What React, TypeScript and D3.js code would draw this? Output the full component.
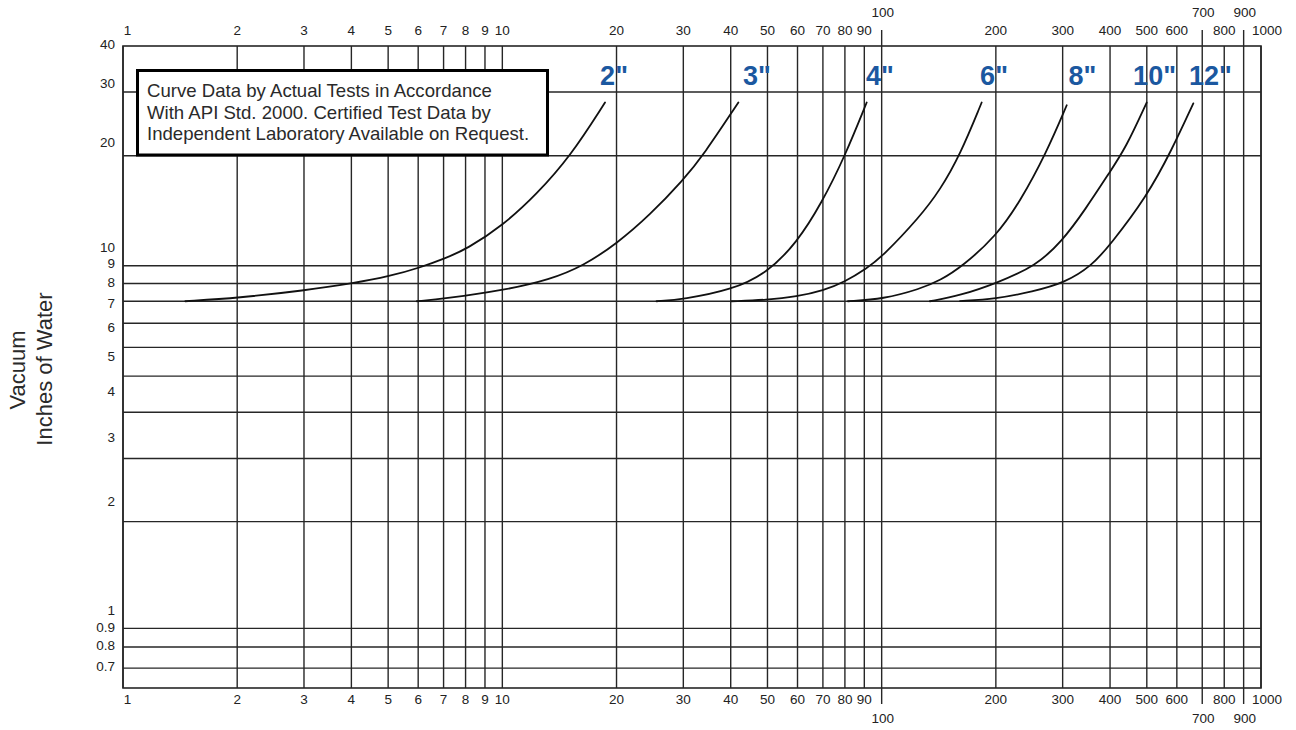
import React from "react";
import * as d3 from "d3";

// ---- data ----
const xGridValues = [1, 2, 3, 4, 5, 6, 7, 8, 9, 10, 20, 30, 40, 50, 60, 70, 80, 90, 100, 200, 300, 400, 500, 600, 700, 800, 900, 1000];
const xTickLabels = [1, 2, 3, 4, 5, 6, 7, 8, 9, 10, 20, 30, 40, 50, 60, 70, 80, 90, 200, 300, 400, 500, 600, 800, 1000];
const xTickLabelsOffset = [100, 700, 900];
const yTickLabels = [40, 30, 20, 10, 9, 8, 7, 6, 5, 4, 3, 2, 1, 0.9, 0.8, 0.7];
const yGridValues = [0.7, 0.8, 0.9, 1.77, 2.64, 3.54, 4.45, 5.34, 6.22, 7.15, 8, 8.95, 18.5, 28.6];

const curve2: [number, number][] = [
  [1.46, 7.15], [2.01, 7.3], [3.02, 7.66], [4.02, 8.0], [5.06, 8.38], [6.07, 8.85], [7.06, 9.38],
  [8.06, 9.95], [10.06, 11.67], [12.3, 14.3], [15.14, 18.47], [18.65, 26.6],
];
const curve3: [number, number][] = [
  [5.95, 7.15], [7.06, 7.27], [10.06, 7.66], [13.36, 8.2], [16.35, 8.95], [20.0, 10.3], [24.5, 12.48],
  [30.0, 15.75], [33.9, 18.59], [41.9, 26.6],
];
const curve4: [number, number][] = [
  [25.5, 7.15], [30.0, 7.24], [40.2, 7.68], [49.8, 8.54], [59.7, 10.36], [69.5, 13.51], [80.1, 18.5], [91.3, 26.6],
];
const curve6: [number, number][] = [
  [40.2, 7.15], [49.8, 7.21], [59.7, 7.36], [70.2, 7.65], [80.1, 8.09], [91.3, 8.81], [100, 9.45],
  [126.2, 12.34], [142.5, 14.73], [160.9, 18.59], [183.5, 26.6],
];
const curve8: [number, number][] = [
  [81.5, 7.15], [101, 7.25], [126.2, 7.73], [142.5, 8.15], [163.5, 8.93], [200.5, 10.86], [231.6, 13.63],
  [272, 18.9], [307.5, 26.1],
];
const curve10: [number, number][] = [
  [134, 7.15], [160.9, 7.41], [201, 8.02], [255.2, 8.95], [298.3, 10.45], [343.6, 12.9], [399.9, 16.64],
  [440, 19.5], [499.6, 26.6],
];
const curve12: [number, number][] = [
  [160.9, 7.16], [199.8, 7.25], [250, 7.6], [304.3, 8.04], [357.9, 8.95], [399.9, 10.22], [499.6, 14.09],
  [581.7, 19.22], [663.1, 26.45],
];
const curves = [curve2, curve3, curve4, curve6, curve8, curve10, curve12];
const sizeLabels = ['2"', '3"', '4"', '6"', '8"', '10"', '12"'];
const sizeLabelAt = [19.7, 46.9, 99.0, 197.8, 338.4, 524, 736];

const noteLines = [
  "Curve Data by Actual Tests in Accordance",
  "With API Std. 2000. Certified Test Data by",
  "Independent Laboratory Available on Request.",
];
const yTitle = ["Vacuum", "Inches of Water"];

// ---- layout ----
const W = 1296;
const H = 730;
const left = 123;
const right = 1261;
const top = 46;
const bottom = 688;

const x = d3.scaleLog().domain([1, 1000]).range([left, right]);
const y = d3.scaleLog().domain([0.617, 10, 20, 30, 40]).range([bottom, 248.3, 144, 85, top]);

const line = d3
  .line<[number, number]>()
  .x((d) => x(d[0]))
  .y((d) => y(d[1]))
  .curve(d3.curveBasis);

const fmt = (v: number) => String(v);
const labelDx = (v: number) => (v === 1 ? 4.5 : v === 1000 ? 6 : 0);

const FONT = "'Liberation Sans', Arial, Helvetica, sans-serif";
const GRID = "#262626";

export default function App() {
  return (
    <svg
      width={W}
      height={H}
      viewBox={`0 0 ${W} ${H}`}
      style={{ position: "absolute", left: 0, top: 0, background: "#fff" }}
      fontFamily={FONT}
    >
      <rect x={0} y={0} width={W} height={H} fill="#fff" />
      {/* vertical grid */}
      {xGridValues.map((v) => (
        <line key={"vx" + v} x1={x(v)} x2={x(v)} y1={top} y2={bottom} stroke={GRID} strokeWidth={1.4} />
      ))}
      {/* extended ticks */}
      {xTickLabelsOffset.map((v) => (
        <g key={"ext" + v}>
          <line x1={x(v)} x2={x(v)} y1={30} y2={top} stroke={GRID} strokeWidth={1.4} />
          <line x1={x(v)} x2={x(v)} y1={bottom} y2={704} stroke={GRID} strokeWidth={1.4} />
        </g>
      ))}
      {/* horizontal grid */}
      {yGridValues.map((v) => (
        <line key={"hy" + v} x1={left} x2={right} y1={y(v)} y2={y(v)} stroke={GRID} strokeWidth={1.4} />
      ))}
      {/* frame */}
      <rect x={left} y={top} width={right - left} height={bottom - top} fill="none" stroke={GRID} strokeWidth={1.6} />

      {/* x tick labels */}
      <g fontSize={13.5} fill="#222" textAnchor="middle">
        {xTickLabels.map((v) => (
          <g key={"xl" + v}>
            <text x={x(v) + labelDx(v)} y={35}>{fmt(v)}</text>
            <text x={x(v) + labelDx(v)} y={704}>{fmt(v)}</text>
          </g>
        ))}
        {xTickLabelsOffset.map((v) => (
          <g key={"xo" + v}>
            <text x={x(v) + 1} y={17}>{fmt(v)}</text>
            <text x={x(v) + 1} y={723}>{fmt(v)}</text>
          </g>
        ))}
      </g>

      {/* y tick labels */}
      <g fontSize={13.5} fill="#222" textAnchor="end">
        {yTickLabels.map((v) => (
          <text key={"yl" + v} x={115} y={y(v) - 1.5} dy="0.35em">{fmt(v)}</text>
        ))}
      </g>

      {/* y title */}
      <g fontSize={22} fill="#2a2a2a" textAnchor="middle">
        <text transform={`translate(25,370) rotate(-90)`}>{yTitle[0]}</text>
        <text transform={`translate(52,369) rotate(-90)`}>{yTitle[1]}</text>
      </g>

      {/* curves */}
      {curves.map((c, i) => (
        <path key={"c" + i} d={line(c) || ""} fill="none" stroke="#111" strokeWidth={1.8} strokeLinecap="round" />
      ))}

      {/* size labels */}
      <g fontSize={27} fontWeight="bold" fill="#1b58a0" textAnchor="middle">
        {sizeLabels.map((s, i) => (
          <text key={"s" + i} x={x(sizeLabelAt[i])} y={85}>{s}</text>
        ))}
      </g>

      {/* note box */}
      <rect x={137.5} y={70.5} width={410} height={84.5} fill="#fff" stroke="#000" strokeWidth={3} />
      <g fontSize={18.6} fill="#2a2a2a">
        {noteLines.map((t, i) => (
          <text key={"n" + i} x={147} y={97 + i * 21.5}>{t}</text>
        ))}
      </g>
    </svg>
  );
}
